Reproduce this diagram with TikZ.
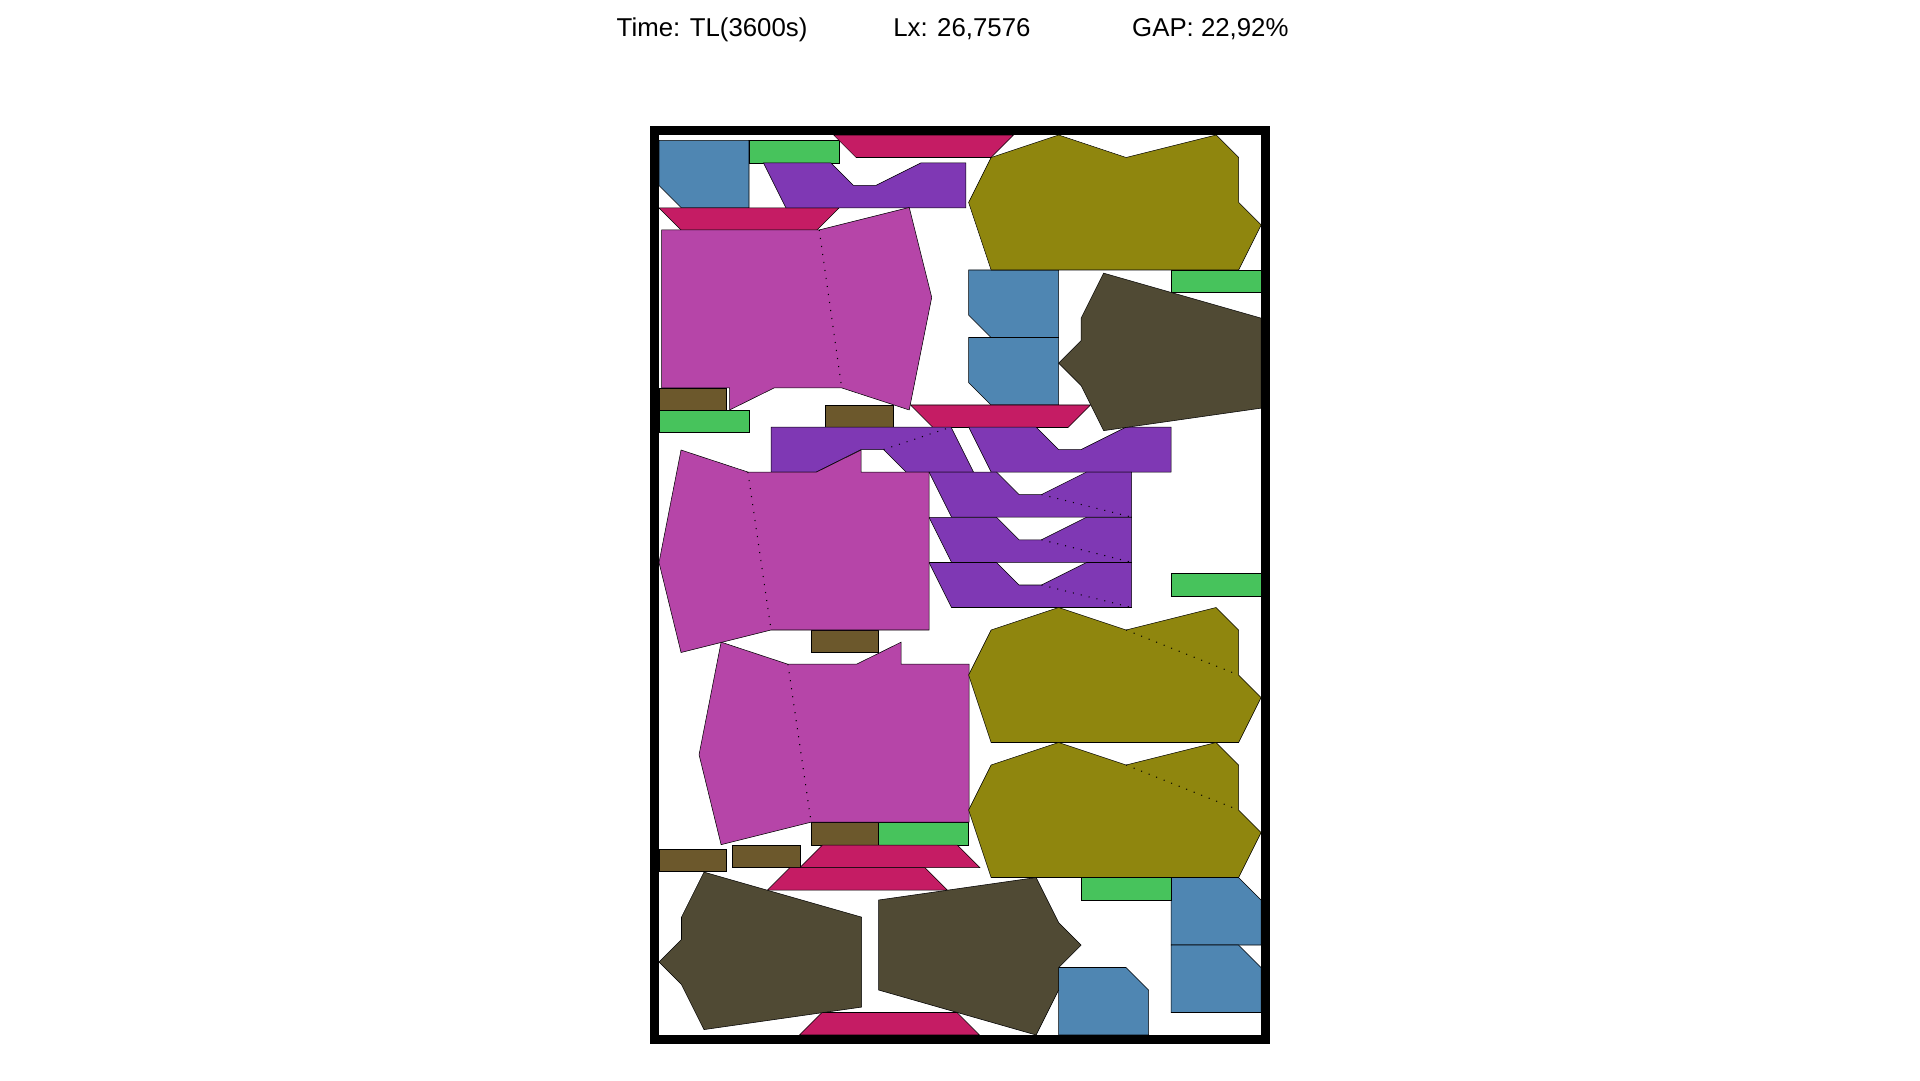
\documentclass[tikz,border=0pt]{standalone}
\usepackage{fontspec}
\setmainfont{Liberation Sans}
\definecolor{cblue}{RGB}{79,134,178}
\definecolor{cgreen}{RGB}{71,195,92}
\definecolor{ccrim}{RGB}{197,28,100}
\definecolor{cpurp}{RGB}{127,56,180}
\definecolor{cmag}{RGB}{182,69,168}
\definecolor{coliv}{RGB}{143,134,14}
\definecolor{cdark}{RGB}{80,74,52}
\definecolor{cbrown}{RGB}{108,88,44}
\tikzset{
  piece/.style={draw=black,line width=0.15pt,line join=miter},
  bl/.style={piece,fill=cblue},
  gr/.style={piece,fill=cgreen},
  cr/.style={piece,fill=ccrim},
  pu/.style={piece,fill=cpurp},
  ma/.style={piece,fill=cmag},
  ol/.style={piece,fill=coliv},
  dk/.style={piece,fill=cdark},
  br/.style={piece,fill=cbrown},
  seam/.style={draw=black,line width=0.3pt,dotted},
  lbl/.style={anchor=base west,inner sep=0pt,font=\fontsize{7.34pt}{9pt}\selectfont},
  frame/.style={draw=black,line width=0.09cm}
}
\begin{document}
\begin{tikzpicture}[x=0.225cm,y=0.225cm]
\useasboundingbox (-29.289,-2) rectangle (56.044,46);
% header
\node[lbl] (time) at (-1.91,44.39) {Time: TL(3600s)};
\node[lbl] (lx) at (10.38,44.39) {Lx: 26,7576};
\node[lbl] (gap) at (21.0,44.39) {GAP: 22,92\%};
% blue
\path[bl] (0,39.76)--(4,39.76)--(4,36.76)--(1,36.76)--(0,37.76)--cycle;
\path[bl] (13.76,34)--(17.76,34)--(17.76,31)--(14.76,31)--(13.76,32)--cycle;
\path[bl] (13.76,31)--(17.76,31)--(17.76,28)--(14.76,28)--(13.76,29)--cycle;
\path[bl] (22.76,7)--(25.76,7)--(26.76,6)--(26.76,4)--(22.76,4)--cycle;
\path[bl] (22.76,4)--(25.76,4)--(26.76,3)--(26.76,1)--(22.76,1)--cycle;
\path[bl] (17.76,0)--(17.76,3)--(20.76,3)--(21.76,2)--(21.76,0)--cycle;
% green
\path[gr] (4,38.76) rectangle (8,39.76);
\path[gr] (22.76,33) rectangle (26.76,34);
\path[gr] (0,26.77) rectangle (4,27.77);
\path[gr] (22.76,19.5) rectangle (26.76,20.5);
\path[gr] (9.76,8.44) rectangle (13.76,9.44);
\path[gr] (18.76,6) rectangle (22.76,7);
% brown
\path[br] (0,27.77) rectangle (3,28.76);
\path[br] (7.4,27) rectangle (10.4,28);
\path[br] (6.76,17) rectangle (9.76,18);
\path[br] (6.76,8.44) rectangle (9.76,9.44);
\path[br] (0,7.26) rectangle (3,8.26);
\path[br] (3.26,7.44) rectangle (6.26,8.44);
% crimson
\path[cr] (7.76,40)--(15.76,40)--(14.76,39)--(8.76,39)--cycle;
\path[cr] (0,36.76)--(8,36.76)--(7,35.76)--(1,35.76)--cycle;
\path[cr] (11.18,28)--(19.18,28)--(18.18,27)--(12.18,27)--cycle;
\path[cr] (6.26,7.44)--(14.26,7.44)--(13.26,8.44)--(7.26,8.44)--cycle;
\path[cr] (4.82,6.44)--(12.82,6.44)--(11.82,7.44)--(5.82,7.44)--cycle;
\path[cr] (6.24,0)--(14.24,0)--(13.24,1)--(7.24,1)--cycle;
% purple
\path[pu] (4.64,38.76)--(7.64,38.76)--(8.64,37.76)--(9.64,37.76)--(11.64,38.76)--(13.64,38.76)--(13.64,36.76)--(5.64,36.76)--cycle;
\path[pu] (12.98,27.02)--(4.98,27.02)--(4.98,25.02)--(6.98,25.02)--(8.98,26.02)--(9.98,26.02)--(10.98,25.02)--(13.98,25.02)--cycle;
\draw[seam] (9.98,26.02)--(12.98,27.02);
\path[pu] (13.76,27.02)--(16.76,27.02)--(17.76,26.02)--(18.76,26.02)--(20.76,27.02)--(22.76,27.02)--(22.76,25.02)--(14.76,25.02)--cycle;
\path[pu] (12,25.02)--(15,25.02)--(16,24.02)--(17,24.02)--(19,25.02)--(21,25.02)--(21,23.02)--(13,23.02)--cycle;
\draw[seam] (17,24.02)--(21,23.02);
\path[pu] (12,23.01)--(15,23.01)--(16,22.01)--(17,22.01)--(19,23.01)--(21,23.01)--(21,21.01)--(13,21.01)--cycle;
\draw[seam] (17,22.01)--(21,21.01);
\path[pu] (12,21)--(15,21)--(16,20)--(17,20)--(19,21)--(21,21)--(21,19)--(13,19)--cycle;
\draw[seam] (17,20)--(21,19);
% magenta
\path[ma] (0.12,35.78)--(7.12,35.78)--(11.12,36.78)--(12.12,32.78)--(11.12,27.78)--(8.12,28.76)--(5.12,28.76)--(3.14,27.78)--(3.14,28.76)--(0.12,28.76)--cycle;
\draw[seam] (7.12,35.78)--(8.12,28.76);
\path[ma] (0.98,26)--(3.95,25.02)--(7.0,25.02)--(8.98,26.0)--(8.98,25.02)--(12,25.02)--(12,18)--(4.98,18)--(0.98,17)--(0,21)--cycle;
\draw[seam] (3.95,25.02)--(4.98,18);
\path[ma] (2.76,17.46)--(5.73,16.48)--(8.78,16.48)--(10.76,17.46)--(10.76,16.48)--(13.78,16.48)--(13.78,9.46)--(6.76,9.46)--(2.76,8.46)--(1.78,12.46)--cycle;
\draw[seam] (5.73,16.48)--(6.76,9.46);
% olive
\path[ol] (14.76,34)--(25.76,34)--(26.76,36)--(25.76,37)--(25.76,39)--(24.76,40)--(20.76,39)--(17.76,40)--(14.76,39)--(13.76,37)--cycle;
\path[ol] (14.76,13)--(25.76,13)--(26.76,15)--(25.76,16)--(25.76,18)--(24.76,19)--(20.76,18)--(17.76,19)--(14.76,18)--(13.76,16)--cycle;
\draw[seam] (20.76,18)--(25.76,16);
\path[ol] (14.76,7)--(25.76,7)--(26.76,9)--(25.76,10)--(25.76,12)--(24.76,13)--(20.76,12)--(17.76,13)--(14.76,12)--(13.76,10)--cycle;
\draw[seam] (20.76,12)--(25.76,10);
% dark olive
\path[dk] (19.76,33.86)--(26.76,31.86)--(26.76,27.86)--(19.76,26.86)--(18.76,28.86)--(17.76,29.86)--(18.76,30.86)--(18.76,31.86)--cycle;
\path[dk] (2,7.24)--(9,5.24)--(9,1.24)--(2,0.24)--(1,2.24)--(0,3.24)--(1,4.24)--(1,5.24)--cycle;
\path[dk] (16.76,0)--(9.76,2)--(9.76,6)--(16.76,7)--(17.76,5)--(18.76,4)--(17.76,3)--(17.76,2)--cycle;
% container
\draw[frame] (-0.2,-0.2) rectangle (26.96,40.2);
\end{tikzpicture}
\end{document}
